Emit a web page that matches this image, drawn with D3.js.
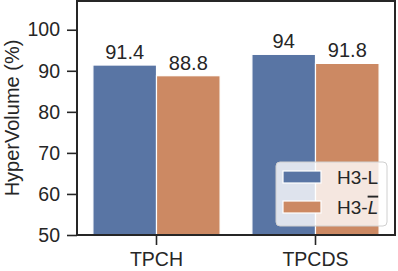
<!DOCTYPE html>
<html>
<head>
<meta charset="utf-8">
<script src="https://cdn.jsdelivr.net/npm/d3@7"></script>
<style>
  body { margin: 0; background: #fff; }
  svg text { font-family: "Liberation Sans", Arial, sans-serif; fill: #262626; }
</style>
</head>
<body>
<div id="chart"></div>
<script>
// chart data
var categories = ["TPCH", "TPCDS"];
var seriesNames = ["H3-L", "H3-L"];
var seriesValues = [[91.4, 94], [88.8, 91.8]];
var valueLabels = [["91.4", "94"], ["88.8", "91.8"]];
var yTicks = [50, 60, 70, 80, 90, 100];
var colors = ["#5975a4", "#cc8963"];

var W = 398, H = 271;
var margin = {top: 1, right: 3, bottom: 36, left: 77};
var w = W - margin.left - margin.right, h = H - margin.top - margin.bottom;

var svg = d3.select("#chart").append("svg").attr("width", W).attr("height", H);
var g = svg.append("g").attr("transform", "translate(" + margin.left + "," + margin.top + ")");

var x0 = d3.scaleBand().domain(categories).range([0, w]).paddingInner(0.2).paddingOuter(0.1);
var x1 = d3.scaleBand().domain(d3.range(seriesNames.length)).range([0, x0.bandwidth()]);
var y = d3.scaleLinear().domain([50, 107]).range([h, 0]);

// bars + value labels
seriesNames.forEach(function(name, si) {
	g.selectAll(".bar" + si).data(categories).enter().append("rect")
		.attr("x", function(d) { return x0(d) + x1(si); })
		.attr("y", function(d, i) { return y(seriesValues[si][i]); })
		.attr("width", x1.bandwidth())
		.attr("height", function(d, i) { return h - y(seriesValues[si][i]); })
		.attr("fill", colors[si])
		.attr("stroke", "#fff").attr("stroke-width", 1.2);
	g.selectAll(".lab" + si).data(categories).enter().append("text")
		.attr("x", function(d) { return x0(d) + x1(si) + x1.bandwidth() / 2; })
		.attr("y", function(d, i) { return y(seriesValues[si][i]) - 6; })
		.attr("text-anchor", "middle").style("font-size", "20px")
		.text(function(d, i) { return valueLabels[si][i]; });
});

// axes
var yAxis = d3.axisLeft(y).tickValues(yTicks).tickSize(10).tickPadding(7);
var ya = g.append("g").call(yAxis);
var xAxis = d3.axisBottom(x0).tickSize(10).tickPadding(7);
var xa = g.append("g").attr("transform", "translate(0," + h + ")").call(xAxis);
[ya, xa].forEach(function(a) {
	a.select(".domain").remove();
	a.selectAll("line").attr("stroke", "#262626").attr("stroke-width", 1.6);
	a.selectAll("text").style("font-size", "19.5px").attr("fill", "#262626");
});

// frame
g.append("rect").attr("width", w).attr("height", h)
	.attr("fill", "none").attr("stroke", "#262626").attr("stroke-width", 2);

// y label
svg.append("text")
	.attr("transform", "translate(19," + (margin.top + h / 2) + ") rotate(-90)")
	.attr("text-anchor", "middle").style("font-size", "20px")
	.text("HyperVolume (%)");

// legend
var leg = g.append("g").attr("transform", "translate(" + (w - 119) + "," + (h - 73) + ")");
leg.append("rect").attr("width", 111).attr("height", 64).attr("rx", 4)
	.attr("fill", "#fff").attr("fill-opacity", 0.8)
	.attr("stroke", "#d0d0d0").attr("stroke-width", 1);
seriesNames.forEach(function(name, si) {
	var row = leg.append("g").attr("transform", "translate(7," + (9 + si * 30) + ")");
	row.append("rect").attr("width", 38).attr("height", 12)
		.attr("fill", colors[si]).attr("stroke", "#fff").attr("stroke-width", 1.2);
	var t = row.append("text").attr("x", 54).attr("y", 6).attr("dy", "0.35em").style("font-size", "19px");
	if (si === 0) t.text(name);
	else {
		// second series is H3-L with an overbar (math italic)
		t.append("tspan").text("H3-");
		t.append("tspan").style("font-style", "italic")
			.style("text-decoration", "overline").text("L");
	}
});
</script>
</body>
</html>
